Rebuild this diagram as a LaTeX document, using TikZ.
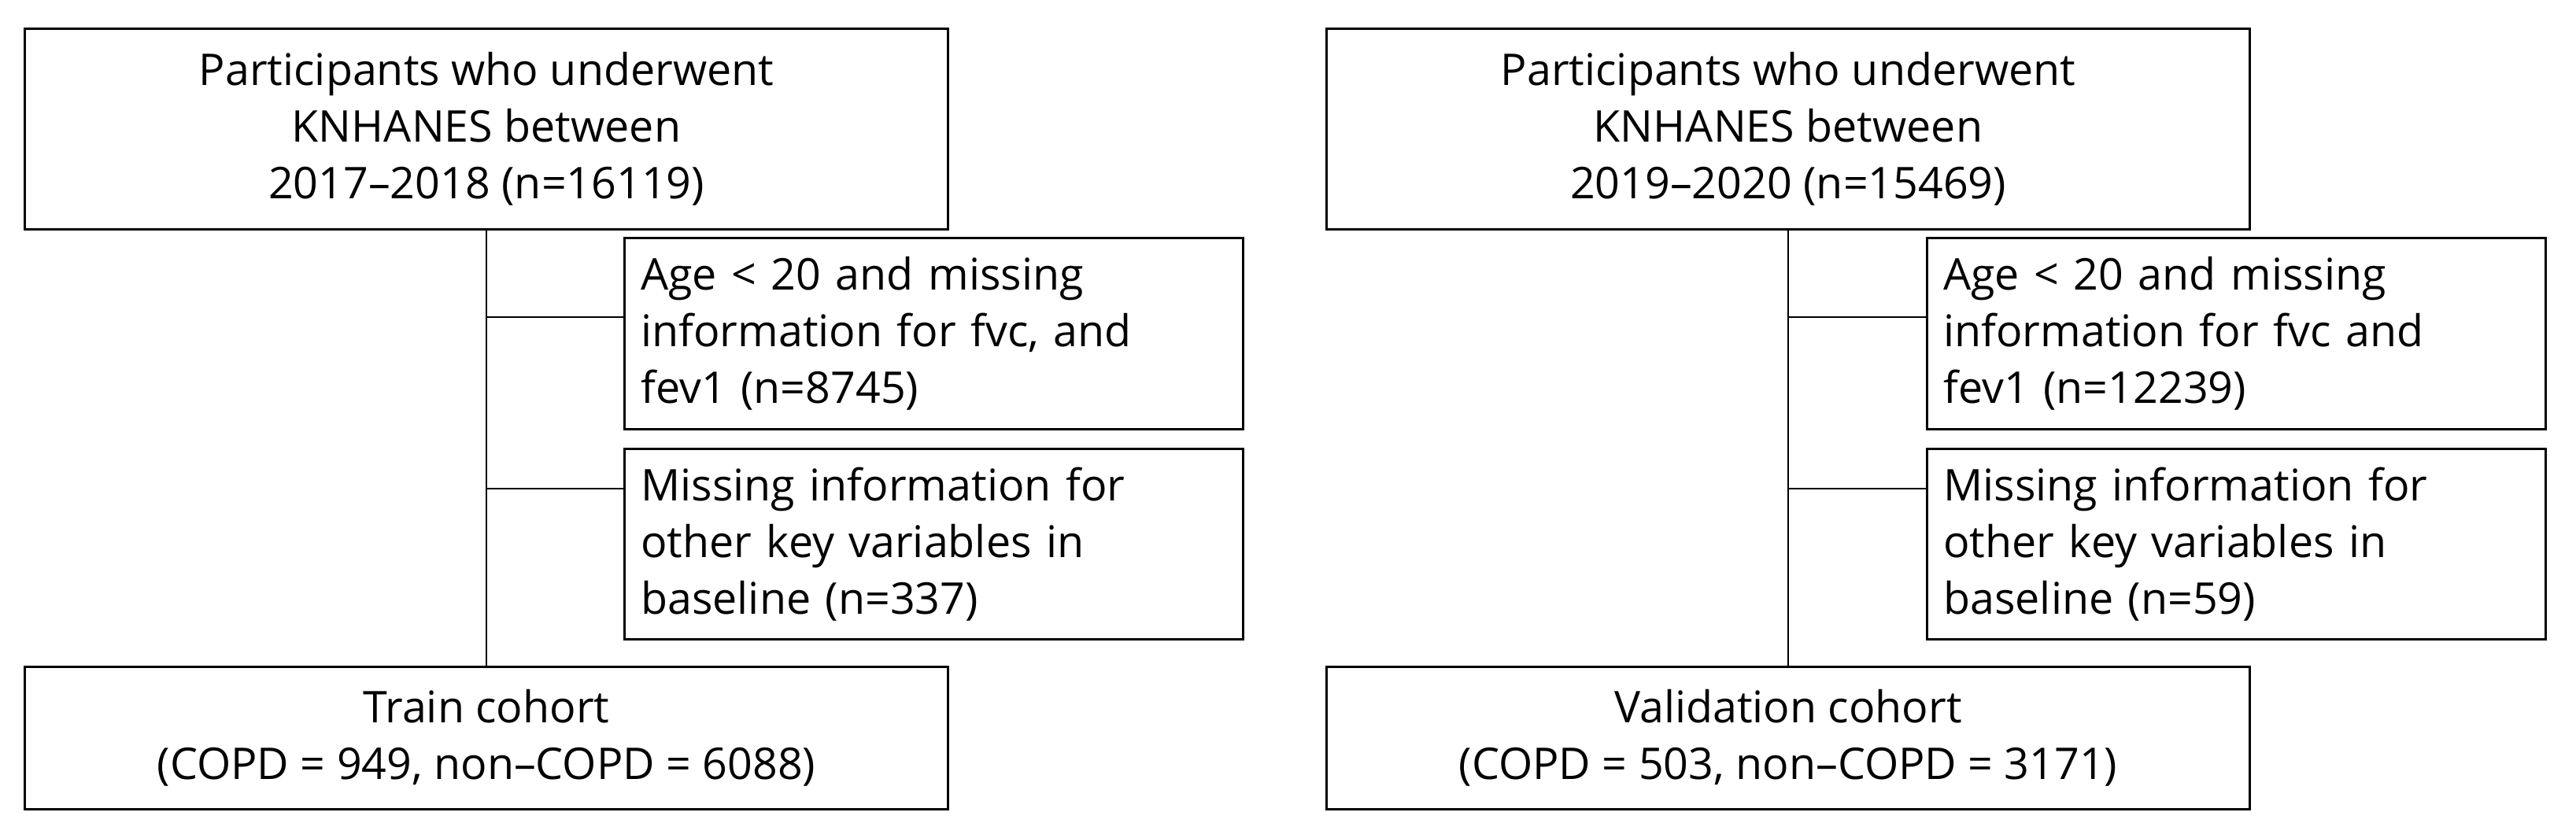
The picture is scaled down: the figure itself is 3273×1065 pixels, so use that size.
\documentclass[tikz,border=0pt]{standalone}
\usepackage{fontspec}
\setmainfont{Open Sans}
\usetikzlibrary{calc}

\begin{document}
\begin{tikzpicture}[x=0.01cm, y=-0.01cm, line width=0.55pt,
  font=\fontsize{15.8}{20.5}\selectfont,
  mainbox/.style={draw, line width=0.85pt, minimum width=11.72cm, align=center, inner sep=0pt},
  exclbox/.style={draw, line width=0.85pt, minimum width=7.86cm, minimum height=2.42cm,
    text width=7.44cm, align=left, inner xsep=0.21cm, inner ysep=0pt}]
  \useasboundingbox (0,0) rectangle (3273,1065);

  % 2017-2018 train cohort
  \node[mainbox, minimum height=2.54cm] (top1) at (618,164)
    {Participants who underwent\\KNHANES between\\2017--2018 (n=16119)};
  \node[exclbox] (ex1a) at (1186.5,424)
    {Age < 20 and missing\\information for fvc, and\\fev1 (n=8745)};
  \node[exclbox] (ex1b) at (1186.5,691.5)
    {Missing information for\\other key variables in\\baseline (n=337)};
  \node[mainbox, minimum height=1.8cm] (coh1) at (618,938)
    {Train cohort\\(COPD = 949, non--COPD = 6088)};

  % 2019-2020 validation cohort
  \node[mainbox, minimum height=2.54cm] (top2) at (2272,164)
    {Participants who underwent\\KNHANES between\\2019--2020 (n=15469)};
  \node[exclbox] (ex2a) at (2841.5,424)
    {Age < 20 and missing\\information for fvc and\\fev1 (n=12239)};
  \node[exclbox] (ex2b) at (2841.5,691.5)
    {Missing information for\\other key variables in\\baseline (n=59)};
  \node[mainbox, minimum height=1.8cm] (coh2) at (2272,938)
    {Validation cohort\\(COPD = 503, non--COPD = 3171)};

  \coordinate (b1a) at (618,403);
  \coordinate (b1b) at (618,621);
  \coordinate (b2a) at (2272,403);
  \coordinate (b2b) at (2272,621);

  \foreach \from/\to in {top1/coh1, top2/coh2}
    \draw (\from.south) -- (\to.north);
  \foreach \from/\to in {b1a/ex1a, b1b/ex1b, b2a/ex2a, b2b/ex2b}
    \draw (\from) -- (\from -| \to.west);
\end{tikzpicture}
\end{document}
